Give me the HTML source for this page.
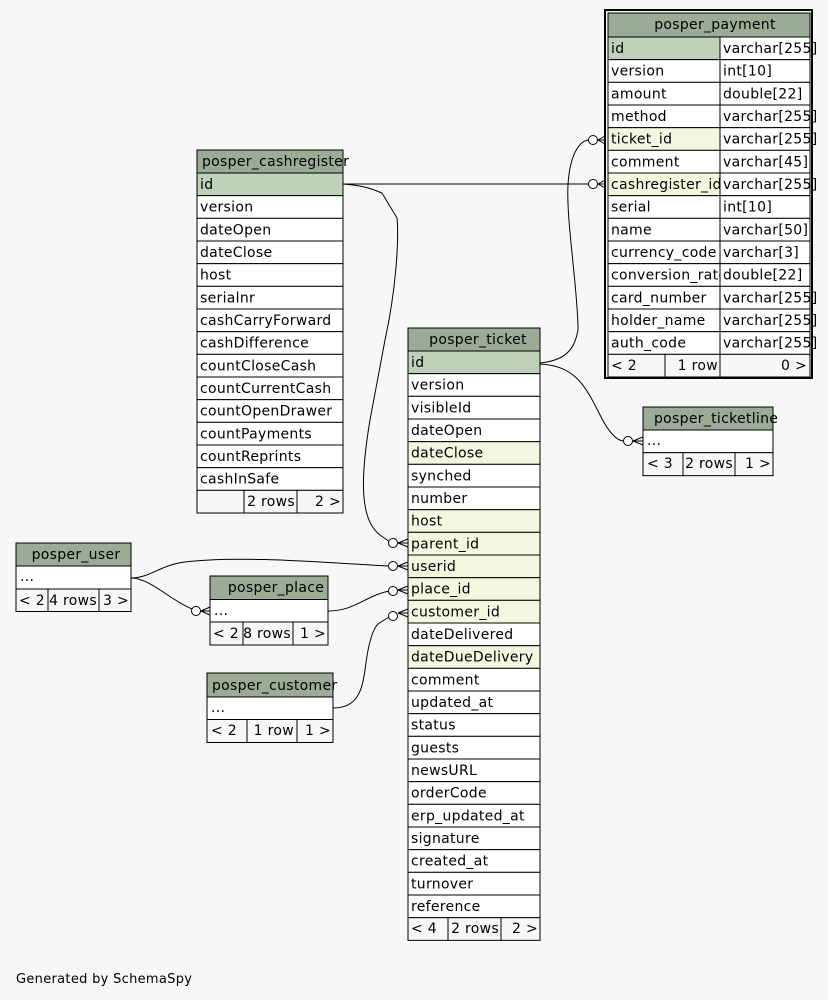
<!DOCTYPE html>
<html><head><meta charset="utf-8"><style>
html,body{margin:0;padding:0;background:#f7f7f7;}
svg{display:block;}
text{font-family:"DejaVu Sans","Liberation Sans",sans-serif;font-size:14px;letter-spacing:0.3px;fill:#000;}
text.ft{font-size:13px;letter-spacing:0.3px;}
.h{fill:#9aab96;stroke:#000;stroke-width:1}
.p{fill:#bed1b9;stroke:#000;stroke-width:1}
.f{fill:#f4f7e0;stroke:#000;stroke-width:1}
.w{fill:#fff;stroke:#000;stroke-width:1}
.g{fill:#f7f7f7;stroke:#000;stroke-width:1}
.e{fill:none;stroke:#000;stroke-width:1}
</style></head><body>
<svg width="828" height="1000" viewBox="0 0 828 1000" xmlns="http://www.w3.org/2000/svg">
<rect width="828" height="1000" fill="#f7f7f7"/>

<!-- edges -->
<path class="e" d="M343,184 L589,184"/>
<path class="e" d="M540,363 C570,360 575,345 578,330 C578,290 566,220 568,185 C570,150 582,140 589,140"/>
<path class="e" d="M540,364 C575,366 585,385 600,415 C610,435 618,441 624,441"/>
<path class="e" d="M343,184 C370,186 378,192 382,193 L397,218 C399,240 396,290 385,340 L370,420 C360,480 360,520 380,535 L390,542"/>
<path class="e" d="M131,578 C150,578 160,565 185,562 C240,555 330,563 389,566"/>
<path class="e" d="M131,578 C150,578 170,600 192,609"/>
<path class="e" d="M328,611 C355,611 365,596 389,591"/>
<path class="e" d="M333,708 C358,708 362,690 365,670 C368,645 372,630 378,624 L389,617"/>

<g fill="#fff" stroke="#000" stroke-width="1">
<circle cx="593" cy="140" r="4.5"/><circle cx="593" cy="184" r="4.5"/>
<circle cx="628" cy="441" r="4.5"/>
<circle cx="393" cy="543" r="4.5"/><circle cx="393" cy="566" r="4.5"/>
<circle cx="393" cy="591" r="4.5"/><circle cx="393" cy="616" r="4.5"/>
<circle cx="196" cy="611" r="4.5"/>
</g>
<g class="e" stroke-width="1.5">
<path d="M598,140 L605,136 M598,140 L605,140 M598,140 L605,144"/>
<path d="M598,184 L605,180 M598,184 L605,184 M598,184 L605,188"/>
<path d="M633,441 L643,437 M633,441 L643,441 M633,441 L643,445"/>
<path d="M398,543 L408,539 M398,543 L408,543 M398,543 L408,547"/>
<path d="M398,566 L408,562 M398,566 L408,566 M398,566 L408,570"/>
<path d="M398,590 L408,586 M398,590 L408,590 M398,590 L408,594"/>
<path d="M398,613 L408,609 M398,613 L408,613 M398,613 L408,617"/>
<path d="M201,611 L210,607 M201,611 L210,611 M201,611 L210,615"/>
</g>

<!-- posper_payment -->
<rect x="605" y="10" width="207" height="368" fill="none" stroke="#000" stroke-width="2"/>
<rect class="h" x="608" y="13" width="202" height="24"/>
<text x="715" y="29" text-anchor="middle">posper_payment</text>
<g>
<rect class="p" x="608" y="37" width="112" height="22.67"/><text x="611" y="53">id</text>
<rect class="w" x="608" y="59.67" width="112" height="22.67"/><text x="611" y="75.67">version</text>
<rect class="w" x="608" y="82.33" width="112" height="22.67"/><text x="611" y="98.33">amount</text>
<rect class="w" x="608" y="105" width="112" height="22.67"/><text x="611" y="121">method</text>
<rect class="f" x="608" y="127.67" width="112" height="22.67"/><text x="611" y="143.67">ticket_id</text>
<rect class="w" x="608" y="150.33" width="112" height="22.67"/><text x="611" y="166.33">comment</text>
<rect class="f" x="608" y="173" width="112" height="22.67"/><text x="611" y="189">cashregister_id</text>
<rect class="w" x="608" y="195.67" width="112" height="22.67"/><text x="611" y="211.67">serial</text>
<rect class="w" x="608" y="218.33" width="112" height="22.67"/><text x="611" y="234.33">name</text>
<rect class="w" x="608" y="241" width="112" height="22.67"/><text x="611" y="257">currency_code</text>
<rect class="w" x="608" y="263.67" width="112" height="22.67"/><text x="611" y="279.67">conversion_rate</text>
<rect class="w" x="608" y="286.33" width="112" height="22.67"/><text x="611" y="302.33">card_number</text>
<rect class="w" x="608" y="309" width="112" height="22.67"/><text x="611" y="325">holder_name</text>
<rect class="w" x="608" y="331.67" width="112" height="22.67"/><text x="611" y="347.67">auth_code</text>
<rect class="g" x="608" y="354.33" width="57" height="22.67"/><text x="611" y="370">&lt; 2</text>
<rect class="g" x="665" y="354.33" width="55" height="22.67"/><text x="718" y="370" text-anchor="end">1 row</text>
</g>
<g>
<rect class="w" x="720" y="37" width="90" height="22.67"/><text x="723" y="53">varchar[255]</text>
<rect class="w" x="720" y="59.67" width="90" height="22.67"/><text x="723" y="75.67">int[10]</text>
<rect class="w" x="720" y="82.33" width="90" height="22.67"/><text x="723" y="98.33">double[22]</text>
<rect class="w" x="720" y="105" width="90" height="22.67"/><text x="723" y="121">varchar[255]</text>
<rect class="w" x="720" y="127.67" width="90" height="22.67"/><text x="723" y="143.67">varchar[255]</text>
<rect class="w" x="720" y="150.33" width="90" height="22.67"/><text x="723" y="166.33">varchar[45]</text>
<rect class="w" x="720" y="173" width="90" height="22.67"/><text x="723" y="189">varchar[255]</text>
<rect class="w" x="720" y="195.67" width="90" height="22.67"/><text x="723" y="211.67">int[10]</text>
<rect class="w" x="720" y="218.33" width="90" height="22.67"/><text x="723" y="234.33">varchar[50]</text>
<rect class="w" x="720" y="241" width="90" height="22.67"/><text x="723" y="257">varchar[3]</text>
<rect class="w" x="720" y="263.67" width="90" height="22.67"/><text x="723" y="279.67">double[22]</text>
<rect class="w" x="720" y="286.33" width="90" height="22.67"/><text x="723" y="302.33">varchar[255]</text>
<rect class="w" x="720" y="309" width="90" height="22.67"/><text x="723" y="325">varchar[255]</text>
<rect class="w" x="720" y="331.67" width="90" height="22.67"/><text x="723" y="347.67">varchar[255]</text>
<rect class="g" x="720" y="354.33" width="90" height="22.67"/><text x="807" y="370" text-anchor="end">0 &gt;</text>
</g>

<!-- posper_cashregister -->
<rect class="h" x="197" y="150" width="146" height="23"/>
<text x="202" y="166">posper_cashregister</text>
<rect class="p" x="197" y="173" width="146" height="22.67"/><text x="200" y="189">id</text>
<rect class="w" x="197" y="195.67" width="146" height="22.67"/><text x="200" y="211.67">version</text>
<rect class="w" x="197" y="218.33" width="146" height="22.67"/><text x="200" y="234.33">dateOpen</text>
<rect class="w" x="197" y="241" width="146" height="22.67"/><text x="200" y="257">dateClose</text>
<rect class="w" x="197" y="263.67" width="146" height="22.67"/><text x="200" y="279.67">host</text>
<rect class="w" x="197" y="286.33" width="146" height="22.67"/><text x="200" y="302.33">serialnr</text>
<rect class="w" x="197" y="309" width="146" height="22.67"/><text x="200" y="325">cashCarryForward</text>
<rect class="w" x="197" y="331.67" width="146" height="22.67"/><text x="200" y="347.67">cashDifference</text>
<rect class="w" x="197" y="354.33" width="146" height="22.67"/><text x="200" y="370.33">countCloseCash</text>
<rect class="w" x="197" y="377" width="146" height="22.67"/><text x="200" y="393">countCurrentCash</text>
<rect class="w" x="197" y="399.67" width="146" height="22.67"/><text x="200" y="415.67">countOpenDrawer</text>
<rect class="w" x="197" y="422.33" width="146" height="22.67"/><text x="200" y="438.33">countPayments</text>
<rect class="w" x="197" y="445" width="146" height="22.67"/><text x="200" y="461">countReprints</text>
<rect class="w" x="197" y="467.67" width="146" height="22.67"/><text x="200" y="483.67">cashInSafe</text>
<rect class="g" x="197" y="490.33" width="47" height="22.67"/>
<rect class="g" x="244" y="490.33" width="53" height="22.67"/><text x="295" y="506" text-anchor="end">2 rows</text>
<rect class="g" x="297" y="490.33" width="46" height="22.67"/><text x="341" y="506" text-anchor="end">2 &gt;</text>

<!-- posper_ticket -->
<rect class="h" x="408" y="328" width="132" height="23"/>
<text x="478" y="344" text-anchor="middle">posper_ticket</text>
<rect class="p" x="408" y="351" width="132" height="22.67"/><text x="411" y="367">id</text>
<rect class="w" x="408" y="373.67" width="132" height="22.67"/><text x="411" y="389.67">version</text>
<rect class="w" x="408" y="396.33" width="132" height="22.67"/><text x="411" y="412.33">visibleId</text>
<rect class="w" x="408" y="419" width="132" height="22.67"/><text x="411" y="435">dateOpen</text>
<rect class="f" x="408" y="441.67" width="132" height="22.67"/><text x="411" y="457.67">dateClose</text>
<rect class="w" x="408" y="464.33" width="132" height="22.67"/><text x="411" y="480.33">synched</text>
<rect class="w" x="408" y="487" width="132" height="22.67"/><text x="411" y="503">number</text>
<rect class="f" x="408" y="509.67" width="132" height="22.67"/><text x="411" y="525.67">host</text>
<rect class="f" x="408" y="532.33" width="132" height="22.67"/><text x="411" y="548.33">parent_id</text>
<rect class="f" x="408" y="555" width="132" height="22.67"/><text x="411" y="571">userid</text>
<rect class="f" x="408" y="577.67" width="132" height="22.67"/><text x="411" y="593.67">place_id</text>
<rect class="f" x="408" y="600.33" width="132" height="22.67"/><text x="411" y="616.33">customer_id</text>
<rect class="w" x="408" y="623" width="132" height="22.67"/><text x="411" y="639">dateDelivered</text>
<rect class="f" x="408" y="645.67" width="132" height="22.67"/><text x="411" y="661.67">dateDueDelivery</text>
<rect class="w" x="408" y="668.33" width="132" height="22.67"/><text x="411" y="684.33">comment</text>
<rect class="w" x="408" y="691" width="132" height="22.67"/><text x="411" y="707">updated_at</text>
<rect class="w" x="408" y="713.67" width="132" height="22.67"/><text x="411" y="729.67">status</text>
<rect class="w" x="408" y="736.33" width="132" height="22.67"/><text x="411" y="752.33">guests</text>
<rect class="w" x="408" y="759" width="132" height="22.67"/><text x="411" y="775">newsURL</text>
<rect class="w" x="408" y="781.67" width="132" height="22.67"/><text x="411" y="797.67">orderCode</text>
<rect class="w" x="408" y="804.33" width="132" height="22.67"/><text x="411" y="820.33">erp_updated_at</text>
<rect class="w" x="408" y="827" width="132" height="22.67"/><text x="411" y="843">signature</text>
<rect class="w" x="408" y="849.67" width="132" height="22.67"/><text x="411" y="865.67">created_at</text>
<rect class="w" x="408" y="872.33" width="132" height="22.67"/><text x="411" y="888.33">turnover</text>
<rect class="w" x="408" y="895" width="132" height="22.67"/><text x="411" y="911">reference</text>
<rect class="g" x="408" y="917.67" width="40" height="22.67"/><text x="411" y="933">&lt; 4</text>
<rect class="g" x="448" y="917.67" width="53" height="22.67"/><text x="499" y="933" text-anchor="end">2 rows</text>
<rect class="g" x="501" y="917.67" width="39" height="22.67"/><text x="538" y="933" text-anchor="end">2 &gt;</text>

<!-- posper_ticketline -->
<rect class="h" x="643" y="407" width="130" height="23"/>
<text x="654" y="423">posper_ticketline</text>
<rect class="w" x="643" y="430" width="130" height="22.67"/><text x="647" y="445">...</text>
<rect class="g" x="643" y="452.67" width="40" height="23"/><text x="647" y="468">&lt; 3</text>
<rect class="g" x="683" y="452.67" width="52" height="23"/><text x="733" y="468" text-anchor="end">2 rows</text>
<rect class="g" x="735" y="452.67" width="38" height="23"/><text x="771" y="468" text-anchor="end">1 &gt;</text>

<!-- posper_user -->
<rect class="h" x="16" y="543" width="115" height="23"/>
<text x="76" y="559" text-anchor="middle">posper_user</text>
<rect class="w" x="16" y="566" width="115" height="23"/><text x="20" y="581">...</text>
<rect class="g" x="16" y="589" width="32" height="22.5"/><text x="19" y="605">&lt; 2</text>
<rect class="g" x="48" y="589" width="51" height="22.5"/><text x="97" y="605" text-anchor="end">4 rows</text>
<rect class="g" x="99" y="589" width="32" height="22.5"/><text x="129" y="605" text-anchor="end">3 &gt;</text>

<!-- posper_place -->
<rect class="h" x="210" y="576" width="118" height="23.5"/>
<text x="276" y="592" text-anchor="middle">posper_place</text>
<rect class="w" x="210" y="599.5" width="118" height="22.5"/><text x="214" y="615">...</text>
<rect class="g" x="210" y="622" width="33" height="23"/><text x="213" y="638">&lt; 2</text>
<rect class="g" x="243" y="622" width="50" height="23"/><text x="291" y="638" text-anchor="end">8 rows</text>
<rect class="g" x="293" y="622" width="35" height="23"/><text x="326" y="638" text-anchor="end">1 &gt;</text>

<!-- posper_customer -->
<rect class="h" x="207" y="673" width="126" height="24"/>
<text x="212" y="690">posper_customer</text>
<rect class="w" x="207" y="697" width="126" height="22.5"/><text x="211" y="712">...</text>
<rect class="g" x="207" y="719.5" width="40" height="23"/><text x="211" y="735">&lt; 2</text>
<rect class="g" x="247" y="719.5" width="50" height="23"/><text x="294" y="735" text-anchor="end">1 row</text>
<rect class="g" x="297" y="719.5" width="36" height="23"/><text x="331" y="735" text-anchor="end">1 &gt;</text>

<text class="ft" x="16" y="983">Generated by SchemaSpy</text>
</svg>
</body></html>
